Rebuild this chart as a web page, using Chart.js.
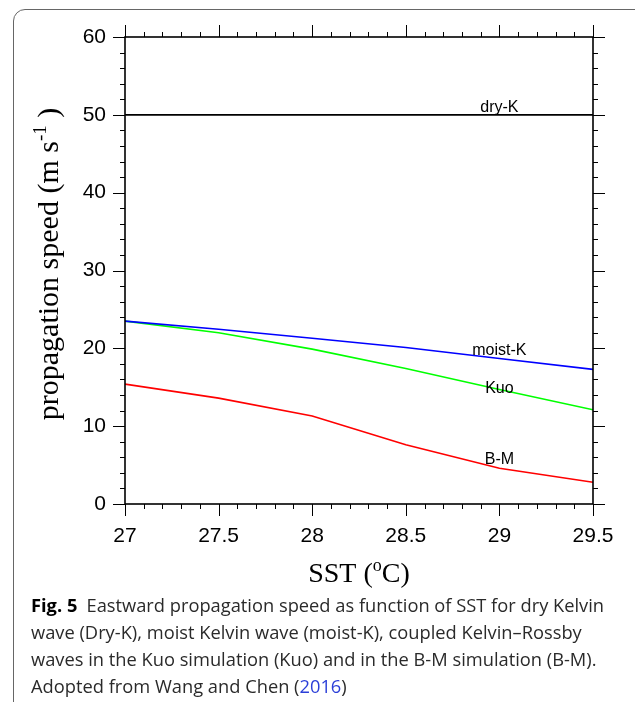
<!DOCTYPE html>
<html>
<head>
<meta charset="utf-8">
<script src="https://cdn.jsdelivr.net/npm/chart.js@4.4.1/dist/chart.umd.min.js"></script>
<style>
  html, body { margin: 0; padding: 0; background: #fff; }
  body { width: 635px; height: 702px; position: relative; overflow: hidden; }
  #frame { position: absolute; left: 13px; top: 9px; width: 660px; height: 740px;
           border: 1.5px solid #666; border-radius: 12px; box-sizing: border-box; }
  #c { position: absolute; left: 0; top: 0; }
  #caption { position: absolute; left: 31px; top: 591px; width: 600px;
             font-family: "Open Sans", "Noto Sans", sans-serif; font-size: 18.3px;
             line-height: 27px; color: #2a2a2a; white-space: nowrap; }
  #caption b { font-weight: 700; color: #000; }
  #caption .ref { color: #2b3fd8; }
</style>
</head>
<body>
<div id="frame"></div>
<canvas id="c" width="635" height="702"></canvas>
<div id="caption"><b>Fig. 5</b>&ensp;Eastward propagation speed as function of SST for dry Kelvin<br>wave (Dry-K), moist Kelvin wave (moist-K), coupled Kelvin–Rossby<br>waves in the Kuo simulation (Kuo) and in the B-M simulation (B-M).<br>Adopted from Wang and Chen (<span class="ref">2016</span>)</div>
<script>
// ---- data ----
const sst    = [27, 27.5, 28, 28.5, 29, 29.5];
const dryK   = [50, 50, 50, 50, 50, 50];
const moistK = [23.5, 22.45, 21.3, 20.1, 18.7, 17.3];
const kuo    = [23.5, 22.0, 19.9, 17.4, 14.7, 12.1];
const bm     = [15.4, 13.6, 11.3, 7.6, 4.6, 2.8];
const xTicks = [27, 27.5, 28, 28.5, 29, 29.5];
const yTicks = [0, 10, 20, 30, 40, 50, 60];
const seriesNames = ['dry-K', 'moist-K', 'Kuo', 'B-M'];
// label anchors (data coords, x centre / baseline)
const labelX = [29.0, 29.0, 29.0, 29.0];
const labelY = [50.4, 19.2, 14.2, 5.15];

const toXY = arr => sst.map((x, i) => ({x: x, y: arr[i]}));
const colors = ['#000000', '#0000ff', '#00ff00', '#ff0000'];
const series = [dryK, moistK, kuo, bm];

const PLOT = {left: 125, right: 593, top: 37, bottom: 504};
const W = 635, H = 702;

const frameTicks = {
  id: 'frameTicks',
  afterDatasetsDraw(chart) {
    const ctx = chart.ctx, xs = chart.scales.x, ys = chart.scales.y;
    const a = chart.chartArea;
    ctx.save();
    ctx.strokeStyle = '#000';
    ctx.lineWidth = 1;
    ctx.beginPath();
    for (let k = 0; k <= 25; k++) {
      const v = 27 + k * 0.1;
      const px = Math.round(xs.getPixelForValue(v)) + 0.5;
      const len = (k % 5 === 0) ? 12 : 5;
      ctx.moveTo(px, a.bottom); ctx.lineTo(px, a.bottom + len);
      ctx.moveTo(px, a.top); ctx.lineTo(px, a.top - len);
    }
    for (let k = 0; k <= 30; k++) {
      const v = k * 2;
      const py = Math.round(ys.getPixelForValue(v)) + 0.5;
      const len = (k % 5 === 0) ? 12 : 5;
      ctx.moveTo(a.left, py); ctx.lineTo(a.left - len, py);
      ctx.moveTo(a.right, py); ctx.lineTo(a.right + len, py);
    }
    ctx.stroke();
    ctx.lineWidth = 1.6;
    ctx.strokeRect(a.left, a.top, a.right - a.left, a.bottom - a.top);

    // line labels
    ctx.fillStyle = '#000';
    ctx.font = '16px "Liberation Sans", Arial, sans-serif';
    ctx.textAlign = 'center';
    ctx.textBaseline = 'alphabetic';
    seriesNames.forEach((n, i) => {
      ctx.fillText(n, xs.getPixelForValue(labelX[i]), ys.getPixelForValue(labelY[i]));
    });

    // x title with superscript
    const serif = '"Liberation Serif", "Times New Roman", serif';
    const fs = 28, sfs = 18;
    const parts = [['SST (', fs, 0], ['o', sfs, -11], ['C)', fs, 0]];
    ctx.textAlign = 'left';
    let total = 0;
    parts.forEach(p => { ctx.font = p[1] + 'px ' + serif; total += ctx.measureText(p[0]).width; });
    let x0 = (a.left + a.right) / 2 - total / 2;
    const by = 582;
    parts.forEach(p => { ctx.font = p[1] + 'px ' + serif; ctx.fillText(p[0], x0, by + p[2]); x0 += ctx.measureText(p[0]).width; });

    // y title rotated
    const yfs = 30, ysfs = 19;
    const yparts = [['propagation speed (m s', yfs, 0], ['-1', ysfs, -12], [' )', yfs, 0]];
    ctx.save();
    ctx.translate(58, 264);
    ctx.rotate(-Math.PI / 2);
    let t2 = 0;
    yparts.forEach(p => { ctx.font = p[1] + 'px ' + serif; t2 += ctx.measureText(p[0]).width; });
    let x1 = -t2 / 2;
    yparts.forEach(p => { ctx.font = p[1] + 'px ' + serif; ctx.fillText(p[0], x1, p[2]); x1 += ctx.measureText(p[0]).width; });
    ctx.restore();
    ctx.restore();
  }
};

const tickFont = {family: '"Liberation Sans", Arial, sans-serif', size: 21};
const hidden = {display: false, drawTicks: false};

new Chart(document.getElementById('c'), {
  type: 'line',
  data: {
    datasets: series.map((s, i) => ({
      label: seriesNames[i],
      data: toXY(s),
      borderColor: colors[i],
      borderWidth: 1.6,
      pointRadius: 0,
      tension: 0,
      fill: false,
      xAxisID: 'x', yAxisID: 'y'
    }))
  },
  options: {
    responsive: false,
    animation: false,
    layout: {padding: 0},
    plugins: {legend: {display: false}, tooltip: {enabled: false}, title: {display: false}},
    scales: {
      x: {
        type: 'linear', position: 'bottom', min: 27, max: 29.5,
        grid: hidden, border: {display: false},
        afterBuildTicks: s => { s.ticks = xTicks.map(v => ({value: v})); },
        ticks: {font: tickFont, color: '#000', padding: 20, maxRotation: 0, autoSkip: false,
                callback: v => String(v)},
        afterFit: s => { s.height = H - PLOT.bottom; }
      },
      xTop: {
        type: 'linear', position: 'top', min: 27, max: 29.5,
        grid: hidden, border: {display: false}, ticks: {display: false},
        afterFit: s => { s.height = PLOT.top; }
      },
      y: {
        type: 'linear', position: 'left', min: 0, max: 60,
        grid: hidden, border: {display: false},
        afterBuildTicks: s => { s.ticks = yTicks.map(v => ({value: v})); },
        ticks: {font: tickFont, color: '#000', padding: 19, callback: v => String(v)},
        afterFit: s => { s.width = PLOT.left; }
      },
      yRight: {
        type: 'linear', position: 'right', min: 0, max: 60,
        grid: hidden, border: {display: false}, ticks: {display: false},
        afterFit: s => { s.width = W - PLOT.right; }
      }
    }
  },
  plugins: [frameTicks]
});
</script>
</body>
</html>
